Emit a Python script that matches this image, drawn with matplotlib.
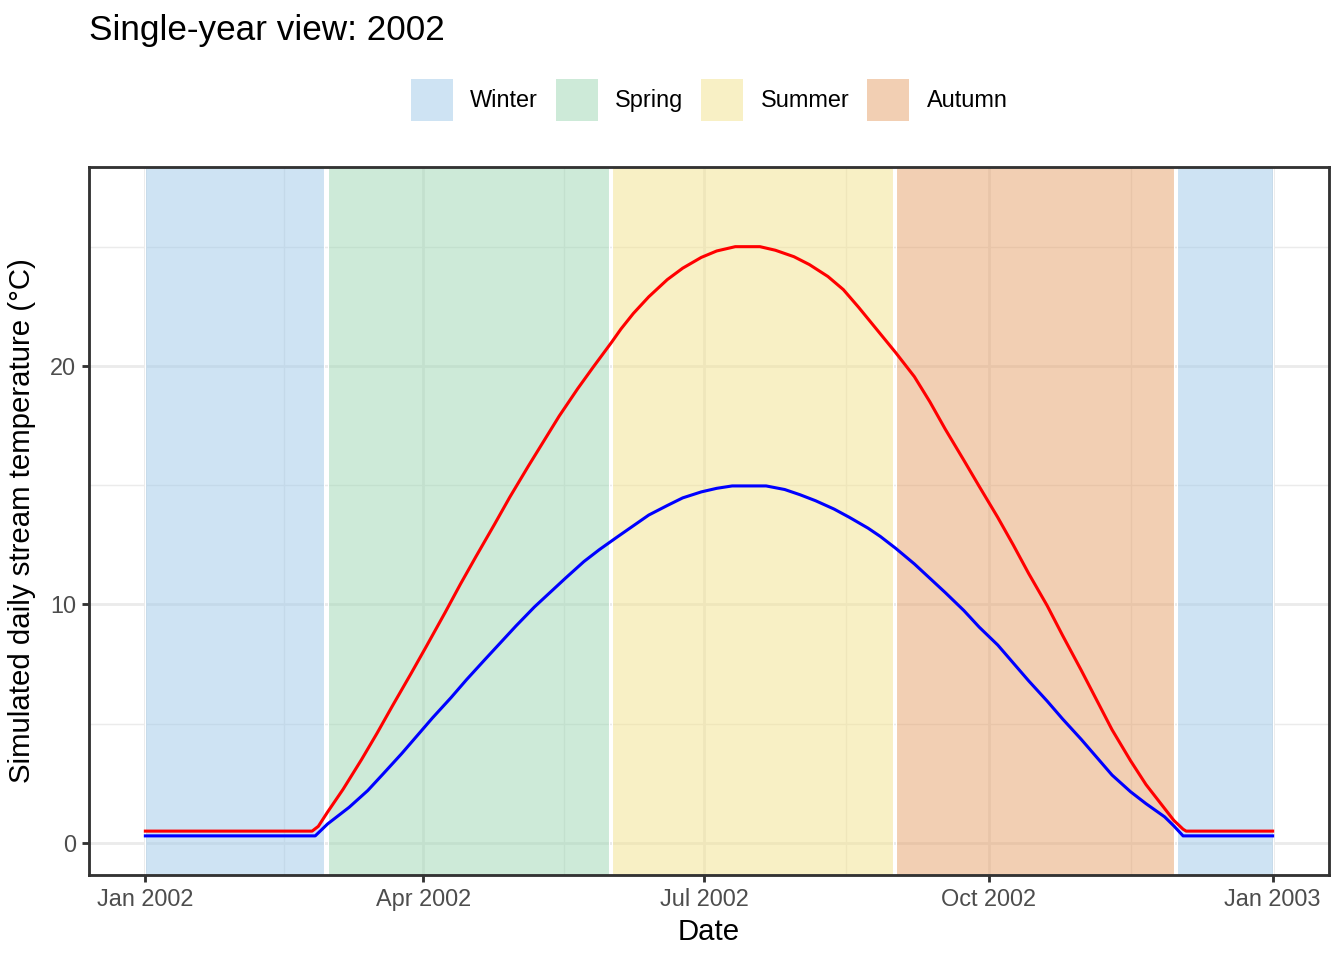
import numpy as np
import matplotlib
matplotlib.use("Agg")
import matplotlib.pyplot as plt
import matplotlib.dates as mdates
from matplotlib.patches import Patch

plt.rcParams['font.family'] = ['Liberation Sans', 'DejaVu Sans']

# ---- data ----
year_start = "2002-01-01"
season_names = ["Winter", "Spring", "Summer", "Autumn", "Winter"]
season_start = ["2002-01-01", "2002-03-01", "2002-06-01", "2002-09-01", "2002-12-01"]
season_end = ["2002-02-28", "2002-05-31", "2002-08-31", "2002-11-30", "2003-01-01"]
legend_names = ["Winter", "Spring", "Summer", "Autumn"]
season_colors = {"Winter": "#9fc9e9", "Spring": "#9dd7b3", "Summer": "#f3e38d", "Autumn": "#e7a169"}

# day offsets from 2002-01-01 and simulated temperatures (°C)
red_days = [0, 54, 56, 59, 64, 70, 75, 80, 86, 91, 97, 102, 107, 113, 118, 124, 129, 134,
            140, 145, 151, 154, 158, 163, 169, 174, 180, 185, 191, 199, 204, 210, 215,
            221, 226, 231, 237, 243, 249, 254, 259, 265, 270, 276, 281, 286, 292, 297, 303,
            308, 313, 319, 324, 330, 333, 336, 337, 365]
red_values = [0.5, 0.5, 0.7, 1.3, 2.25, 3.5, 4.6, 5.75, 7.1, 8.25, 9.65, 10.85, 12.0, 13.35,
              14.5, 15.8, 16.85, 17.9, 19.05, 19.95, 21.0, 21.55, 22.2, 22.9, 23.62,
              24.1, 24.55, 24.82, 25.0, 25.0, 24.85, 24.58, 24.25, 23.75, 23.2, 22.45, 21.5,
              20.55, 19.55, 18.5, 17.35, 16.05, 14.95, 13.65, 12.5, 11.3, 9.95, 8.7, 7.25,
              6.0, 4.75, 3.45, 2.45, 1.45, 0.95, 0.58, 0.5, 0.5]

blue_days = [0, 55, 59, 66, 72, 77, 83, 88, 93, 99, 104, 110, 115, 120, 126, 131, 136, 142,
             147, 153, 158, 163, 169, 174, 180, 185, 190, 201, 207, 212, 217, 223, 228, 234,
             238, 243, 249, 254, 259, 265, 270, 276, 281, 286, 292, 297, 303, 308, 313, 319,
             324, 330, 333, 336, 365]
blue_values = [0.3, 0.3, 0.8, 1.5, 2.2, 2.9, 3.75, 4.5, 5.25, 6.1, 6.85, 7.7, 8.4, 9.1,
               9.9, 10.5, 11.1, 11.8, 12.3, 12.85, 13.3, 13.75, 14.15, 14.47, 14.72, 14.87,
               14.97, 14.97, 14.82, 14.6, 14.35, 14.0, 13.65, 13.2, 12.85, 12.35, 11.7, 11.1,
               10.5, 9.75, 9.05, 8.3, 7.55, 6.8, 5.95, 5.2, 4.35, 3.6, 2.85, 2.15, 1.65,
               1.1, 0.72, 0.3, 0.3]

x_breaks = ["2002-01-01", "2002-04-01", "2002-07-01", "2002-10-01", "2003-01-01"]
y_breaks = [0, 10, 20]
y_minor = [5, 15, 25]

# ---- figure ----
W, H = 1344, 960
fig = plt.figure(figsize=(7, 5), dpi=192)
ax = fig.add_axes([89 / W, 1 - 875 / H, (1329 - 89) / W, (875 - 167) / H])

def d2n(s):
    return mdates.date2num(np.datetime64(s))

def days2num(days):
    d = np.datetime64(year_start) + np.array(days, dtype="timedelta64[D]")
    return mdates.date2num(d)

for name, s, e in zip(season_names, season_start, season_end):
    c = matplotlib.colors.to_rgb(season_colors[name])
    ax.axvspan(d2n(s), d2n(e), facecolor=(*c, 0.5), edgecolor="white", linewidth=0.4, zorder=1)

ax.plot(days2num(red_days), red_values, color="red", lw=1.15, zorder=3)
ax.plot(days2num(blue_days), blue_values, color="blue", lw=1.15, zorder=3)

x0, x1 = d2n("2002-01-01"), d2n("2003-01-01")
pad = (x1 - x0) * 0.05
ax.set_xlim(x0 - pad, x1 + pad)
ax.set_ylim(-1.34, 28.34)

xb = [d2n(d) for d in x_breaks]
ax.set_xticks(xb)
ax.set_xticklabels([np.datetime64(d).astype(object).strftime("%b %Y") for d in x_breaks])
ax.set_xticks([(a + b) / 2 for a, b in zip(xb[:-1], xb[1:])], minor=True)
ax.set_yticks(y_breaks)
ax.set_yticks(y_minor, minor=True)

ax.set_axisbelow(True)
ax.grid(which="major", color="#ebebeb", lw=1.07, zorder=0)
ax.grid(which="minor", color="#ebebeb", lw=0.53, zorder=0)
ax.tick_params(which="major", length=2.75, width=1.07, color="#333333",
               labelsize=8.8, labelcolor="#4d4d4d", pad=2.2)
ax.tick_params(which="minor", length=0)
for sp in ax.spines.values():
    sp.set_color("#333333")
    sp.set_linewidth(1.07)
    sp.set_zorder(5)

ax.set_xlabel("Date", fontsize=11, labelpad=2.5)
ax.set_ylabel("Simulated daily stream temperature (°C)", fontsize=11, labelpad=5)

fig.text(89 / W, 1 - 40 / H, "Single-year view: 2002", fontsize=13.2, ha="left", va="baseline")

handles = [Patch(facecolor=(*matplotlib.colors.to_rgb(season_colors[n]), 0.5), edgecolor="none", label=n)
           for n in legend_names]
fig.legend(handles=handles, loc="center", bbox_to_anchor=(709 / W, 1 - 100 / H), ncol=4,
           frameon=False, fontsize=8.8, handlelength=1.79, handleheight=2.44,
           handletextpad=0.75, columnspacing=0.75, borderaxespad=0)

fig.savefig("out.png", dpi=192)
